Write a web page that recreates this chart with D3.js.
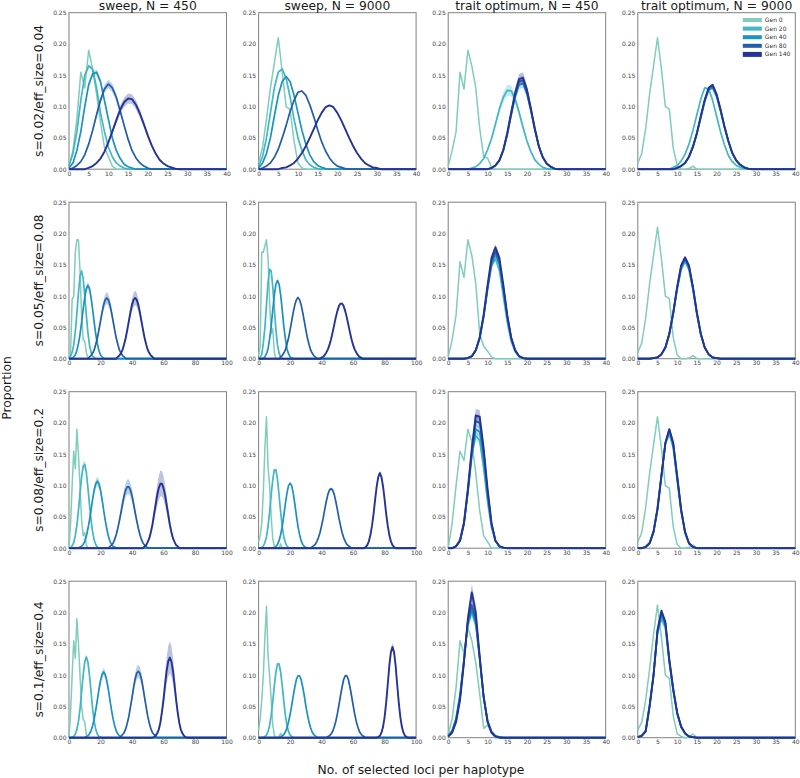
<!DOCTYPE html>
<html>
<head>
<meta charset="utf-8">
<script src="https://cdn.jsdelivr.net/npm/d3@7"></script>
<style>
  body { margin: 0; background: #fff; }
  svg { display: block; font-family: "DejaVu Sans", sans-serif; }
</style>
</head>
<body>
<div class="container"></div>
<script>
(function(){
  // ---- data ----
  const gens = ['Gen 0', 'Gen 20', 'Gen 40', 'Gen 80', 'Gen 140'];
  const colTitles = ['sweep, N = 450', 'sweep, N = 9000', 'trait optimum, N = 450', 'trait optimum, N = 9000'];
  const rowLabels = ['s=0.02/eff_size=0.04', 's=0.05/eff_size=0.08', 's=0.08/eff_size=0.2', 's=0.1/eff_size=0.4'];
  const xMax = [[40, 40, 40, 40], [100, 100, 40, 40], [100, 100, 40, 40], [100, 100, 40, 40]];
  const yTicks = [0, 0.05, 0.1, 0.15, 0.2, 0.25];

  // each series: [first x, proportions at x, x+1, ...]; zero elsewhere
  const sweep450_s002 = [
    [0, [0.005,0.03,0.08,0.155,0.13,0.19,0.16,0.12,0.075,0.035,0.02,0.005]],
    [0, [0.005,0.025,0.06,0.11,0.15,0.165,0.16,0.13,0.09,0.06,0.035,0.02,0.01,0.005,0.002]],
    [0, [0.002,0.01,0.03,0.06,0.1,0.135,0.152,0.155,0.14,0.11,0.08,0.05,0.03,0.017,0.008,0.004,0.002]],
    [1, [0.002,0.006,0.012,0.023,0.04,0.062,0.087,0.11,0.128,0.136,0.13,0.115,0.093,0.07,0.048,0.03,0.018,0.01,0.005,0.002]],
    [5, [0.002,0.005,0.01,0.017,0.028,0.043,0.06,0.078,0.095,0.107,0.113,0.112,0.103,0.089,0.072,0.054,0.038,0.025,0.015,0.009,0.005,0.003,0.001]]
  ];
  const sweep9000_s002 = [
    [0, [0.01,0.035,0.08,0.13,0.17,0.21,0.155,0.1,0.095,0.045,0.01,0.002]],
    [0, [0.005,0.02,0.05,0.09,0.13,0.155,0.16,0.145,0.115,0.08,0.05,0.03,0.015,0.007,0.003,0.001]],
    [0, [0.002,0.01,0.025,0.05,0.085,0.118,0.14,0.148,0.14,0.118,0.09,0.062,0.04,0.023,0.012,0.006,0.003,0.001]],
    [1, [0.002,0.005,0.01,0.019,0.032,0.05,0.07,0.092,0.11,0.123,0.125,0.118,0.103,0.084,0.063,0.044,0.029,0.018,0.01,0.005,0.003,0.001]],
    [6, [0.002,0.003,0.006,0.01,0.017,0.026,0.037,0.05,0.064,0.078,0.09,0.099,0.102,0.099,0.09,0.078,0.064,0.05,0.037,0.026,0.017,0.01,0.006,0.003,0.002]]
  ];
  const trait450_s002 = [
    [0, [0.004,0.03,0.06,0.155,0.128,0.19,0.165,0.13,0.065,0.02,0.018,0.003]],
    [6, [0.002,0.004,0.009,0.017,0.031,0.049,0.072,0.096,0.115,0.126,0.125,0.112,0.091,0.067,0.045,0.028,0.015,0.008,0.003,0.001]],
    [11, [0.002,0.006,0.014,0.03,0.055,0.086,0.115,0.135,0.137,0.12,0.093,0.063,0.037,0.02,0.009,0.004,0.001]],
    [11, [0.002,0.006,0.014,0.03,0.056,0.088,0.119,0.14,0.142,0.124,0.095,0.064,0.037,0.019,0.009,0.004,0.001]],
    [11, [0.002,0.006,0.014,0.031,0.058,0.091,0.122,0.144,0.146,0.127,0.097,0.065,0.037,0.019,0.009,0.004,0.001]]
  ];
  const trait9000_s002 = [
    [0, [0.01,0.025,0.065,0.12,0.165,0.21,0.16,0.1,0.096,0.034,0.006,0,0,0.001,0.005]],
    [9, [0.003,0.006,0.013,0.024,0.04,0.062,0.087,0.112,0.13,0.128,0.11,0.085,0.06,0.039,0.022,0.012,0.006,0.003,0.001]],
    [10, [0.002,0.005,0.01,0.019,0.035,0.056,0.082,0.108,0.126,0.13,0.116,0.093,0.067,0.044,0.025,0.014,0.007,0.003,0.001]],
    [10, [0.002,0.005,0.01,0.02,0.036,0.057,0.084,0.11,0.129,0.133,0.119,0.095,0.068,0.045,0.026,0.014,0.007,0.003,0.001]],
    [10, [0.002,0.005,0.01,0.02,0.036,0.058,0.085,0.111,0.13,0.135,0.12,0.096,0.069,0.045,0.026,0.014,0.007,0.003,0.001]]
  ];

  const sweep450_s005 = [
    [0, [0,0.01,0.095,0.1,0.17,0.19,0.19,0.14,0.07,0.03,0.028,0.01,0.002]],
    [1, [0.004,0.01,0.022,0.043,0.072,0.105,0.132,0.14,0.128,0.101,0.07,0.042,0.022,0.01,0.004,0.002]],
    [2, [0.001,0.003,0.006,0.013,0.024,0.039,0.058,0.079,0.098,0.112,0.117,0.112,0.098,0.079,0.058,0.039,0.024,0.013,0.006,0.003,0.001]],
    [13, [0.003,0.005,0.009,0.014,0.023,0.033,0.046,0.06,0.074,0.086,0.094,0.097,0.094,0.086,0.074,0.06,0.046,0.033,0.023,0.014,0.009,0.005,0.003]],
    [31, [0.003,0.005,0.009,0.014,0.023,0.033,0.046,0.06,0.074,0.086,0.094,0.097,0.094,0.086,0.074,0.06,0.046,0.033,0.023,0.014,0.009,0.005,0.003]]
  ];
  const sweep9000_s005 = [
    [0, [0.005,0.02,0.17,0.17,0.18,0.19,0.16,0.09,0.04,0.048,0.01]],
    [1, [0.002,0.007,0.025,0.05,0.086,0.122,0.143,0.14,0.115,0.079,0.046,0.022,0.009,0.003,0.001]],
    [3, [0.001,0.003,0.008,0.016,0.032,0.052,0.078,0.102,0.119,0.125,0.119,0.102,0.078,0.052,0.032,0.016,0.008,0.003,0.001]],
    [14, [0.003,0.005,0.009,0.014,0.023,0.033,0.046,0.06,0.074,0.086,0.094,0.098,0.094,0.086,0.074,0.06,0.046,0.033,0.023,0.014,0.009,0.005,0.003]],
    [40, [0.002,0.003,0.006,0.01,0.015,0.022,0.031,0.042,0.054,0.066,0.076,0.084,0.088,0.088,0.084,0.076,0.066,0.054,0.042,0.031,0.022,0.015,0.01,0.006,0.003,0.002]]
  ];
  const trait450_s005 = [
    [0, [0.003,0.03,0.07,0.155,0.13,0.19,0.165,0.12,0.04,0.02,0.012,0.003]],
    [5, [0.001,0.004,0.014,0.034,0.07,0.113,0.148,0.16,0.141,0.1,0.058,0.028,0.011,0.003,0.001]],
    [5, [0.001,0.004,0.013,0.032,0.066,0.11,0.151,0.167,0.151,0.11,0.066,0.032,0.013,0.004,0.001]],
    [5, [0.001,0.004,0.013,0.033,0.068,0.114,0.155,0.172,0.155,0.114,0.068,0.033,0.013,0.004,0.001]],
    [5, [0.001,0.004,0.014,0.034,0.07,0.118,0.161,0.178,0.161,0.118,0.07,0.034,0.014,0.004,0.001]]
  ];
  const trait9000_s005 = [
    [0, [0.01,0.025,0.065,0.12,0.165,0.21,0.16,0.1,0.096,0.034,0.006,0,0,0.001,0.005]],
    [4, [0.001,0.002,0.007,0.017,0.038,0.071,0.11,0.142,0.155,0.142,0.11,0.071,0.038,0.017,0.007,0.002,0.001]],
    [4, [0.001,0.002,0.007,0.018,0.039,0.072,0.112,0.145,0.158,0.145,0.112,0.072,0.039,0.018,0.007,0.002,0.001]],
    [4, [0.001,0.002,0.007,0.018,0.04,0.073,0.114,0.147,0.16,0.147,0.114,0.073,0.04,0.018,0.007,0.002,0.001]],
    [4, [0.001,0.002,0.007,0.018,0.04,0.074,0.115,0.149,0.162,0.149,0.115,0.074,0.04,0.018,0.007,0.002,0.001]]
  ];

  const sweep450_s008 = [
    [0, [0,0.04,0.1,0.155,0.127,0.19,0.15,0.1,0.045,0.02,0.025,0.005]],
    [2, [0.004,0.009,0.02,0.037,0.06,0.088,0.114,0.131,0.134,0.121,0.097,0.07,0.045,0.026,0.013,0.006,0.002]],
    [7, [0.002,0.003,0.006,0.011,0.019,0.031,0.045,0.061,0.078,0.093,0.103,0.107,0.103,0.093,0.078,0.061,0.045,0.031,0.019,0.011,0.006,0.003,0.002]],
    [26, [0.003,0.005,0.008,0.014,0.022,0.032,0.044,0.057,0.071,0.084,0.093,0.098,0.098,0.093,0.084,0.071,0.057,0.044,0.032,0.022,0.014,0.008,0.005,0.003]],
    [48, [0.003,0.005,0.01,0.016,0.026,0.038,0.054,0.069,0.085,0.096,0.103,0.103,0.096,0.085,0.069,0.054,0.038,0.026,0.016,0.01,0.005,0.003]]
  ];
  const sweep9000_s008 = [
    [0, [0.01,0.02,0.04,0.09,0.16,0.21,0.13,0.1,0.05,0.015,0.003,0,0,0,0.007]],
    [2, [0.001,0.0035,0.009,0.018,0.035,0.058,0.085,0.11,0.125,0.125,0.11,0.085,0.058,0.035,0.018,0.009,0.0035,0.001]],
    [10, [0.001,0.003,0.006,0.012,0.022,0.035,0.052,0.071,0.088,0.1,0.104,0.1,0.088,0.071,0.052,0.035,0.022,0.012,0.006,0.003,0.001]],
    [34, [0.002,0.004,0.006,0.011,0.017,0.025,0.036,0.048,0.062,0.075,0.086,0.093,0.095,0.093,0.086,0.075,0.062,0.048,0.036,0.025,0.017,0.011,0.006,0.004,0.002]],
    [68, [0.002,0.005,0.011,0.021,0.036,0.055,0.078,0.099,0.114,0.12,0.114,0.099,0.078,0.055,0.036,0.021,0.011,0.005,0.002]]
  ];
  const trait450_s008 = [
    [0, [0,0.04,0.1,0.155,0.14,0.19,0.17,0.12,0.06,0.02,0.01]],
    [2, [0.004,0.014,0.042,0.092,0.148,0.18,0.172,0.128,0.074,0.033,0.011,0.003,0.001]],
    [2, [0.003,0.012,0.038,0.088,0.148,0.19,0.186,0.142,0.084,0.037,0.012,0.003,0.001]],
    [2, [0.003,0.012,0.039,0.092,0.155,0.203,0.2,0.153,0.09,0.039,0.012,0.003,0.001]],
    [2, [0.003,0.012,0.04,0.095,0.16,0.212,0.21,0.16,0.095,0.04,0.012,0.003,0.001]]
  ];
  const trait9000_s008 = [
    [0, [0.01,0.025,0.065,0.12,0.165,0.21,0.16,0.1,0.096,0.034,0.006,0,0,0.001,0.005]],
    [2, [0.002,0.009,0.028,0.066,0.118,0.167,0.182,0.16,0.108,0.058,0.024,0.007,0.002]],
    [2, [0.002,0.008,0.026,0.063,0.116,0.167,0.187,0.164,0.112,0.06,0.025,0.008,0.002]],
    [2, [0.002,0.008,0.026,0.062,0.115,0.168,0.19,0.168,0.115,0.062,0.026,0.008,0.002]],
    [2, [0.002,0.008,0.026,0.062,0.115,0.168,0.19,0.168,0.115,0.062,0.026,0.008,0.002]]
  ];

  const sweep450_s01 = [
    [0, [0,0.04,0.1,0.155,0.127,0.19,0.15,0.1,0.05,0.03,0.025,0.005]],
    [2, [0.001,0.002,0.006,0.013,0.026,0.046,0.073,0.1,0.121,0.129,0.121,0.1,0.073,0.046,0.026,0.013,0.006,0.002,0.001]],
    [11, [0.002,0.003,0.006,0.011,0.019,0.03,0.044,0.06,0.077,0.091,0.101,0.105,0.101,0.091,0.077,0.06,0.044,0.03,0.019,0.011,0.006,0.003,0.002]],
    [33, [0.002,0.005,0.008,0.014,0.023,0.034,0.049,0.064,0.08,0.094,0.103,0.106,0.103,0.094,0.08,0.064,0.049,0.034,0.023,0.014,0.008,0.005,0.002]],
    [54, [0.001,0.003,0.007,0.013,0.024,0.041,0.061,0.085,0.107,0.122,0.128,0.122,0.107,0.085,0.061,0.041,0.024,0.013,0.007,0.003,0.001]]
  ];
  const sweep9000_s01 = [
    [0, [0.012,0.03,0.06,0.1,0.16,0.21,0.13,0.1,0.06,0.02,0.004,0,0,0.002,0.007]],
    [4, [0.002,0.004,0.01,0.02,0.036,0.058,0.083,0.105,0.118,0.118,0.105,0.083,0.058,0.036,0.02,0.01,0.004,0.002]],
    [14, [0.001,0.003,0.005,0.009,0.016,0.025,0.037,0.051,0.067,0.081,0.093,0.099,0.099,0.093,0.081,0.067,0.051,0.037,0.025,0.016,0.009,0.005,0.003,0.001]],
    [44, [0.002,0.003,0.006,0.01,0.017,0.026,0.038,0.052,0.067,0.081,0.093,0.099,0.099,0.093,0.081,0.067,0.052,0.038,0.026,0.017,0.01,0.006,0.003,0.002]],
    [76, [0.001,0.003,0.008,0.017,0.033,0.056,0.085,0.115,0.137,0.145,0.137,0.115,0.085,0.056,0.033,0.017,0.008,0.003,0.001]]
  ];
  const trait450_s01 = [
    [0, [0.005,0.03,0.08,0.155,0.135,0.176,0.155,0.12,0.07,0.015,0.02,0.008]],
    [0, [0.004,0.012,0.032,0.07,0.125,0.18,0.2,0.18,0.125,0.065,0.028,0.01,0.003,0.001]],
    [0, [0.003,0.01,0.03,0.066,0.124,0.185,0.205,0.185,0.126,0.065,0.027,0.009,0.003,0.001]],
    [0, [0.002,0.009,0.028,0.063,0.122,0.188,0.212,0.19,0.128,0.065,0.026,0.009,0.002,0.001]],
    [0, [0.002,0.008,0.025,0.06,0.12,0.19,0.232,0.2,0.13,0.065,0.025,0.008,0.002]]
  ];
  const trait9000_s01 = [
    [0, [0.012,0.025,0.06,0.11,0.165,0.212,0.16,0.1,0.095,0.035,0.006,0.002,0,0.001,0.006]],
    [0, [0.001,0.004,0.012,0.053,0.102,0.166,0.19,0.175,0.12,0.074,0.038,0.017,0.006,0.002,0.001]],
    [0, [0.001,0.003,0.011,0.051,0.1,0.168,0.196,0.18,0.122,0.076,0.039,0.017,0.007,0.002,0.001]],
    [0, [0.001,0.003,0.01,0.05,0.1,0.17,0.2,0.183,0.124,0.077,0.04,0.018,0.007,0.002,0.001]],
    [0, [0.001,0.003,0.01,0.05,0.1,0.172,0.203,0.185,0.125,0.078,0.04,0.018,0.007,0.002,0.001]]
  ];

  // relative half-width of the replicate band, per panel and generation
  const bandRow0 = [[0,0.02,0.03,0.05,0.07],[0,0.01,0.01,0.01,0.01],[0,0.07,0.05,0.05,0.06],[0,0.01,0.01,0.01,0.01]];
  const bandRow1 = [[0,0.03,0.05,0.1,0.12],[0,0.01,0.01,0.01,0.02],[0,0.03,0.03,0.03,0.03],[0,0.01,0.01,0.01,0.01]];
  const bandRow2 = [[0,0.05,0.07,0.12,0.2],[0,0.01,0.01,0.02,0.03],[0,0.04,0.04,0.04,0.05],[0,0.01,0.01,0.01,0.01]];
  const bandRow3 = [[0,0.04,0.06,0.1,0.2],[0,0.01,0.01,0.02,0.04],[0,0.04,0.04,0.05,0.06],[0,0.01,0.01,0.01,0.01]];

  const panels = [
    [sweep450_s002, sweep9000_s002, trait450_s002, trait9000_s002],
    [sweep450_s005, sweep9000_s005, trait450_s005, trait9000_s005],
    [sweep450_s008, sweep9000_s008, trait450_s008, trait9000_s008],
    [sweep450_s01, sweep9000_s01, trait450_s01, trait9000_s01]
  ];
  const bands = [bandRow0, bandRow1, bandRow2, bandRow3];

  // ---- layout / style ----
  const config = {w: 800, h: 778, left: 69, top: 12.7, dx: 189.6, dy: 189.5, pw: 157.5, ph: 156.5};
  const colors = ['#7fcdbb', '#41b6c4', '#1d91c0', '#225ea8', '#253494'];
  const lineW = [1.5, 1.7, 1.7, 1.7, 1.9];

  const svg = d3.select('.container').append('svg')
    .attr('width', config.w)
    .attr('height', config.h);

  const y = d3.scaleLinear().domain([0, 0.25]).range([config.ph, 0]);

  panels.forEach((row, r) => {
    row.forEach((series, c) => {
      const xm = xMax[r][c];
      const x = d3.scaleLinear().domain([0, xm]).range([0, config.pw]);
      const g = svg.append('g')
        .attr('transform', `translate(${config.left + c * config.dx},${config.top + r * config.dy})`);

      g.append('rect')
        .attr('width', config.pw)
        .attr('height', config.ph)
        .attr('fill', 'none')
        .attr('stroke', '#808080')
        .attr('stroke-width', 1);

      // tick labels only, no tick marks
      g.append('g')
        .attr('transform', `translate(0,${config.ph})`)
        .call(d3.axisBottom(x).tickValues(d3.range(0, xm + 1, xm === 40 ? 5 : 20)).tickSize(0).tickPadding(2.5))
        .call(a => a.select('.domain').remove())
        .attr('font-size', 6)
        .attr('font-family', '"DejaVu Sans", sans-serif')
        .attr('color', '#444');

      g.append('g')
        .call(d3.axisLeft(y).tickValues(yTicks).tickFormat(d3.format('.2f')).tickSize(0).tickPadding(2.5))
        .call(a => a.select('.domain').remove())
        .attr('font-size', 6)
        .attr('font-family', '"DejaVu Sans", sans-serif')
        .attr('color', '#444');

      const line = d3.line().x(d => x(d[0])).y(d => y(d[1]));
      const area = d3.area().x(d => x(d[0])).y0(d => y(d[1] * (1 - d[2]))).y1(d => y(d[1] * (1 + d[2])));

      series.forEach((s, i) => {
        const [x0, vals] = s;
        const f = bands[r][c][i];
        const pts = d3.range(0, xm + 1).map(k => {
          const v = (k >= x0 && k < x0 + vals.length) ? vals[k - x0] : 0;
          return [k, v, f];
        });
        if (f > 0) {
          g.append('path')
            .datum(pts)
            .attr('d', area)
            .attr('fill', colors[i])
            .attr('fill-opacity', 0.3);
        }
        g.append('path')
          .datum(pts)
          .attr('d', line)
          .attr('fill', 'none')
          .attr('stroke', colors[i])
          .attr('stroke-width', lineW[i])
          .attr('stroke-linejoin', 'round');
      });

      if (r === 0) {
        g.append('text')
          .attr('x', config.pw / 2)
          .attr('y', -3.2)
          .attr('text-anchor', 'middle')
          .attr('font-size', 12.3)
          .attr('fill', '#1a1a1a')
          .text(colTitles[c]);
      }
    });

    svg.append('text')
      .attr('transform', `translate(43,${config.top + r * config.dy + config.ph / 2}) rotate(-90)`)
      .attr('text-anchor', 'middle')
      .attr('font-size', 12.3)
      .attr('fill', '#1a1a1a')
      .text(rowLabels[r]);
  });

  // legend in the top-right panel
  const legend = svg.append('g')
    .attr('transform', `translate(${config.left + 3 * config.dx + 105},20)`);
  gens.forEach((name, i) => {
    const h = i === 4 ? 5 : 4;
    legend.append('rect')
      .attr('x', 0)
      .attr('y', i * 8.6 - h / 2)
      .attr('width', 19)
      .attr('height', h)
      .attr('fill', colors[i]);
    legend.append('text')
      .attr('x', 22)
      .attr('y', i * 8.6 + 2)
      .attr('font-size', 6)
      .attr('fill', '#333')
      .text(name);
  });

  svg.append('text')
    .attr('transform', 'translate(10.5,388) rotate(-90)')
    .attr('text-anchor', 'middle')
    .attr('font-size', 12.3)
    .attr('fill', '#1a1a1a')
    .text('Proportion');

  svg.append('text')
    .attr('x', 421)
    .attr('y', 774)
    .attr('text-anchor', 'middle')
    .attr('font-size', 12.3)
    .attr('fill', '#1a1a1a')
    .text('No. of selected loci per haplotype');
})();
</script>
</body>
</html>
